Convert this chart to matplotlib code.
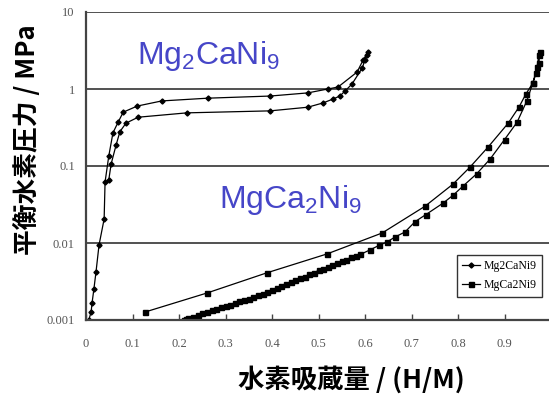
import matplotlib.pyplot as plt

plt.rcParams['font.family'] = ['Noto Sans CJK JP', 'DejaVu Sans']

# Mg2CaNi9: absorption (up) then desorption (back down)
x_mg2 = [0.006, 0.011, 0.013, 0.017, 0.0215, 0.028, 0.039, 0.041, 0.049, 0.058,
         0.069, 0.080, 0.110, 0.163, 0.262, 0.396, 0.477, 0.520, 0.542, 0.583,
         0.596, 0.606,
         0.604, 0.600, 0.594, 0.572, 0.557, 0.546, 0.531, 0.510, 0.477, 0.396,
         0.217, 0.112, 0.086, 0.073, 0.065, 0.054, 0.049]
p_mg2 = [0.001, 0.00127, 0.00166, 0.00253, 0.0042, 0.0094, 0.0205, 0.062, 0.135, 0.27,
         0.37, 0.50, 0.60, 0.70, 0.76, 0.81, 0.89, 1.0, 1.06, 1.66,
         2.38, 3.0,
         2.76, 2.38, 1.87, 1.16, 0.94, 0.81, 0.74, 0.66, 0.58, 0.52,
         0.49, 0.43, 0.36, 0.28, 0.19, 0.106, 0.066]

# MgCa2Ni9: absorption (sparse points) then desorption (dense points)
x_ca2 = [0.127, 0.26, 0.389, 0.518, 0.637, 0.729, 0.789, 0.826, 0.865, 0.908,
         0.931, 0.946, 0.961, 0.970, 0.974, 0.976,
         0.974, 0.968, 0.961, 0.948, 0.927, 0.90, 0.869, 0.84, 0.811, 0.79,
         0.768, 0.731, 0.708, 0.686, 0.665, 0.647, 0.63, 0.61, 0.59, 0.58,
         0.57, 0.56, 0.55, 0.54, 0.53, 0.52, 0.51, 0.50, 0.49, 0.48,
         0.47, 0.46, 0.45, 0.44, 0.43, 0.42, 0.41, 0.40, 0.39, 0.38,
         0.37, 0.36, 0.35, 0.34, 0.33, 0.32, 0.31, 0.30, 0.29, 0.28,
         0.27, 0.26, 0.25, 0.24, 0.23, 0.22, 0.215, 0.21]
p_ca2 = [0.00127, 0.00224, 0.0041, 0.0072, 0.0135, 0.030, 0.058, 0.097, 0.177, 0.36,
         0.58, 0.86, 1.2, 1.93, 2.77, 3.0,
         2.17, 1.6, 1.2, 0.70, 0.37, 0.22, 0.123, 0.079, 0.055, 0.042,
         0.033, 0.0234, 0.019, 0.0139, 0.012, 0.0103, 0.0093, 0.0081, 0.0071, 0.0068,
         0.0065, 0.0061, 0.0058, 0.0055, 0.0052, 0.0049, 0.0046, 0.0044, 0.0041, 0.0039,
         0.00367, 0.00347, 0.00327, 0.0031, 0.0029, 0.00275, 0.0026, 0.00245, 0.0023, 0.0022,
         0.0021, 0.0020, 0.0019, 0.00182, 0.00174, 0.00166, 0.00158, 0.00153, 0.00146, 0.0014,
         0.00133, 0.00127, 0.00122, 0.00115, 0.0011, 0.00105, 0.00102, 0.001]

xticks = [0, 0.1, 0.2, 0.3, 0.4, 0.5, 0.6, 0.7, 0.8, 0.9, 1]
xtick_labels = ['0', '0.1', '0.2', '0.3', '0.4', '0.5', '0.6', '0.7', '0.8', '0.9', '1']
yticks = [0.001, 0.01, 0.1, 1, 10]
ytick_labels = ['0.001', '0.01', '0.1', '1', '10']

fig = plt.figure(figsize=(5.49, 3.98), dpi=100)
ax = fig.add_axes([86 / 549, 78 / 398, 465 / 549, 308 / 398])

ax.plot(x_mg2, p_mg2, color='black', lw=0.9, marker='D', ms=2.6, label='Mg2CaNi9')
ax.plot(x_ca2, p_ca2, color='black', lw=0.9, marker='s', ms=3.6, label='MgCa2Ni9')

ax.set_yscale('log')
ax.set_xlim(0, 1)
ax.set_ylim(0.001, 10)
for y in [1, 0.1, 0.01, 10]:
    ax.axhline(y, color='#222222', lw=1.1, zorder=0)

ax.set_xticks(xticks)
ax.set_xticklabels(xtick_labels, family='Liberation Serif', fontsize=9, color='#555555')
ax.set_yticks(yticks)
ax.set_yticklabels(ytick_labels, family='Liberation Serif', fontsize=9, color='#555555')
ax.minorticks_off()
ax.tick_params(axis='x', direction='in', length=4, width=1, pad=13, color='#444444')
ax.tick_params(axis='y', length=0, pad=8)

for s in ['top', 'right']:
    ax.spines[s].set_visible(False)
for s in ['left', 'bottom']:
    ax.spines[s].set_linewidth(1.6)
    ax.spines[s].set_color('#444444')

ax.set_ylabel('平衡水素圧力 / MPa', fontsize=18.5, fontweight='bold', va='center')
ax.yaxis.set_label_coords((27 - 86) / 465, (320 - 140) / 308)
ax.set_xlabel('水素吸蔵量 / (H/M)', fontsize=19, fontweight='bold', va='center')
ax.xaxis.set_label_coords((351 - 86) / 465, (320 - 380) / 308)

ax.text(0.11, 0.857, r'$\mathregular{Mg_2CaNi_9}$', transform=ax.transAxes,
        fontsize=23, color='#4646c8', va='center', family='Liberation Sans')
ax.text(0.287, 0.39, r'$\mathregular{MgCa_2Ni_9}$', transform=ax.transAxes,
        fontsize=23, color='#4646c8', va='center', family='Liberation Sans')

leg = ax.legend(loc='lower left', bbox_to_anchor=(0.792, 0.068), fancybox=False,
                edgecolor='#333333', framealpha=1, handlelength=1.5,
                prop={'family': 'Liberation Serif', 'size': 8.5},
                borderpad=0.45, labelspacing=0.6, handletextpad=0.3, borderaxespad=0.2)
leg.get_frame().set_linewidth(1.0)

fig.savefig('out.png', dpi=100)
